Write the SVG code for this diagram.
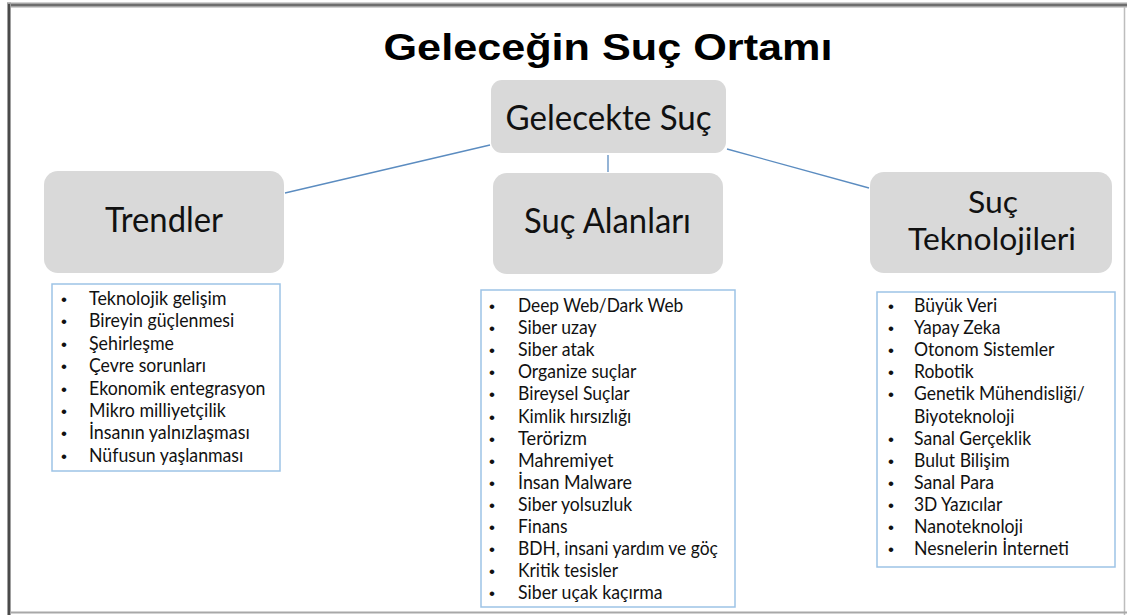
<svg xmlns="http://www.w3.org/2000/svg" width="1127" height="615" viewBox="0 0 1127 615">
<style>
.title{font-family:"Liberation Sans",Arial,sans-serif;font-weight:bold;font-size:36px;fill:#000}
.node rect.box{fill:#d9d9d9;stroke:none}
.lbl{font-family:Lato,"Open Sans",sans-serif;font-size:34px;fill:#111;text-anchor:middle}
.list{fill:#fff;stroke:#9dc3e6;stroke-width:1.5}
.it{font-family:Lato,"Open Sans",sans-serif;font-size:19px;fill:#111}
.bu{font-family:"Liberation Sans",Arial,sans-serif;font-size:17px;fill:#111}
.conn line{stroke:#5b8cc0;stroke-width:1.3}
</style>
<rect x="0" y="0" width="1127" height="615" fill="#fff"/>
<!-- frame -->
<rect x="7" y="2.5" width="1120" height="5" fill="#a6a6a6"/>
<rect x="7" y="4" width="1120" height="2" fill="#6e6e6e"/>
<rect x="7" y="2.5" width="4" height="612.5" fill="#a0a0a0"/>
<rect x="8" y="4" width="2" height="611" fill="#4a4a4a"/>
<line x1="1124.5" y1="7" x2="1124.5" y2="615" stroke="#bdbdbd" stroke-width="1.5"/>
<line x1="10" y1="612.5" x2="1127" y2="612.5" stroke="#a8a8a8" stroke-width="2"/>

<text class="title" x="608" y="60" text-anchor="middle" textLength="449" lengthAdjust="spacingAndGlyphs">Geleceğin Suç Ortamı</text>

<g class="conn" id="connectors">
<line x1="490" y1="145" x2="285" y2="193"/>
<line x1="608" y1="155" x2="608" y2="172"/>
<line x1="727" y1="149" x2="869" y2="188"/>
</g>

<g class="node" id="node-root">
<rect class="box" x="491" y="80" width="235" height="73" rx="11"/>
<text class="lbl" x="608.5" y="130" textLength="206" lengthAdjust="spacingAndGlyphs">Gelecekte Suç</text>
</g>

<g class="node" id="node-trendler">
<rect class="box" x="44" y="171" width="240" height="102" rx="14"/>
<text class="lbl" x="164" y="232" textLength="118" lengthAdjust="spacingAndGlyphs">Trendler</text>
</g>

<g class="node" id="node-alanlar">
<rect class="box" x="493" y="173" width="230" height="101" rx="14"/>
<text class="lbl" x="607.5" y="233" textLength="167" lengthAdjust="spacingAndGlyphs">Suç Alanları</text>
</g>

<g class="node" id="node-teknolojiler">
<rect class="box" x="870" y="172" width="242" height="101" rx="14"/>
<text class="lbl" style="font-size:30px" x="993" y="213" textLength="50" lengthAdjust="spacingAndGlyphs">Suç</text>
<text class="lbl" style="font-size:30px" x="992" y="250" textLength="168" lengthAdjust="spacingAndGlyphs">Teknolojileri</text>
</g>

<g id="list-trendler">
<rect class="list" x="52" y="284" width="228" height="187"/>
<g class="bu">
<text x="61" y="305">•</text><text x="61" y="327.4">•</text><text x="61" y="349.8">•</text><text x="61" y="372.2">•</text><text x="61" y="394.6">•</text><text x="61" y="417">•</text><text x="61" y="439.4">•</text><text x="61" y="461.8">•</text>
</g>
<g class="it">
<text x="89" y="305" textLength="137.6" lengthAdjust="spacingAndGlyphs">Teknolojik gelişim</text>
<text x="89" y="327.4" textLength="145.2" lengthAdjust="spacingAndGlyphs">Bireyin güçlenmesi</text>
<text x="89" y="349.8" textLength="85" lengthAdjust="spacingAndGlyphs">Şehirleşme</text>
<text x="89" y="372.2" textLength="117" lengthAdjust="spacingAndGlyphs">Çevre sorunları</text>
<text x="89" y="394.6" textLength="176.4" lengthAdjust="spacingAndGlyphs">Ekonomik entegrasyon</text>
<text x="89" y="417" textLength="136.9" lengthAdjust="spacingAndGlyphs">Mikro milliyetçilik</text>
<text x="89" y="439.4" textLength="160.7" lengthAdjust="spacingAndGlyphs">İnsanın yalnızlaşması</text>
<text x="89" y="461.8" textLength="154.3" lengthAdjust="spacingAndGlyphs">Nüfusun yaşlanması</text>
</g>
</g>

<g id="list-alanlar">
<rect class="list" x="481" y="290" width="254" height="317"/>
<g class="bu">
<text x="489" y="312">•</text><text x="489" y="334.1">•</text><text x="489" y="356.2">•</text><text x="489" y="378.3">•</text><text x="489" y="400.4">•</text><text x="489" y="422.5">•</text><text x="489" y="444.6">•</text><text x="489" y="466.7">•</text><text x="489" y="488.8">•</text><text x="489" y="510.9">•</text><text x="489" y="533">•</text><text x="489" y="555.1">•</text><text x="489" y="577.2">•</text><text x="489" y="599.3">•</text>
</g>
<g class="it">
<text x="518" y="312" textLength="165.3" lengthAdjust="spacingAndGlyphs">Deep Web/Dark Web</text>
<text x="518" y="334.1" textLength="78.6" lengthAdjust="spacingAndGlyphs">Siber uzay</text>
<text x="518" y="356.2" textLength="76.6" lengthAdjust="spacingAndGlyphs">Siber atak</text>
<text x="518" y="378.3" textLength="118.4" lengthAdjust="spacingAndGlyphs">Organize suçlar</text>
<text x="518" y="400.4" textLength="111.7" lengthAdjust="spacingAndGlyphs">Bireysel Suçlar</text>
<text x="518" y="422.5" textLength="113.3" lengthAdjust="spacingAndGlyphs">Kimlik hırsızlığı</text>
<text x="518" y="444.6" textLength="69" lengthAdjust="spacingAndGlyphs">Terörizm</text>
<text x="518" y="466.7" textLength="95.4" lengthAdjust="spacingAndGlyphs">Mahremiyet</text>
<text x="518" y="488.8" textLength="114" lengthAdjust="spacingAndGlyphs">İnsan Malware</text>
<text x="518" y="510.9" textLength="114.3" lengthAdjust="spacingAndGlyphs">Siber yolsuzluk</text>
<text x="518" y="533" textLength="49.6" lengthAdjust="spacingAndGlyphs">Finans</text>
<text x="518" y="555.1" textLength="199.9" lengthAdjust="spacingAndGlyphs">BDH, insani yardım ve göç</text>
<text x="518" y="577.2" textLength="100" lengthAdjust="spacingAndGlyphs">Kritik tesisler</text>
<text x="518" y="599.3" textLength="144.5" lengthAdjust="spacingAndGlyphs">Siber uçak kaçırma</text>
</g>
</g>

<g id="list-teknolojiler">
<rect class="list" x="877" y="292" width="238" height="275"/>
<g class="bu">
<text x="888" y="312">•</text><text x="888" y="334.1">•</text><text x="888" y="356.2">•</text><text x="888" y="378.3">•</text><text x="888" y="400.4">•</text><text x="888" y="444.6">•</text><text x="888" y="466.7">•</text><text x="888" y="488.8">•</text><text x="888" y="510.9">•</text><text x="888" y="533">•</text><text x="888" y="555.1">•</text>
</g>
<g class="it">
<text x="914" y="312" textLength="83.1" lengthAdjust="spacingAndGlyphs">Büyük Veri</text>
<text x="914" y="334.1" textLength="86.4" lengthAdjust="spacingAndGlyphs">Yapay Zeka</text>
<text x="914" y="356.2" textLength="140.4" lengthAdjust="spacingAndGlyphs">Otonom Sistemler</text>
<text x="914" y="378.3" textLength="59.7" lengthAdjust="spacingAndGlyphs">Robotik</text>
<text x="914" y="400.4" textLength="170.7" lengthAdjust="spacingAndGlyphs">Genetik Mühendisliği/</text>
<text x="914" y="422.5" textLength="100.5" lengthAdjust="spacingAndGlyphs">Biyoteknoloji</text>
<text x="914" y="444.6" textLength="117.1" lengthAdjust="spacingAndGlyphs">Sanal Gerçeklik</text>
<text x="914" y="466.7" textLength="95.6" lengthAdjust="spacingAndGlyphs">Bulut Bilişim</text>
<text x="914" y="488.8" textLength="80.2" lengthAdjust="spacingAndGlyphs">Sanal Para</text>
<text x="914" y="510.9" textLength="88.3" lengthAdjust="spacingAndGlyphs">3D Yazıcılar</text>
<text x="914" y="533" textLength="109.1" lengthAdjust="spacingAndGlyphs">Nanoteknoloji</text>
<text x="914" y="555.1" textLength="155" lengthAdjust="spacingAndGlyphs">Nesnelerin İnterneti</text>
</g>
</g>
</svg>
